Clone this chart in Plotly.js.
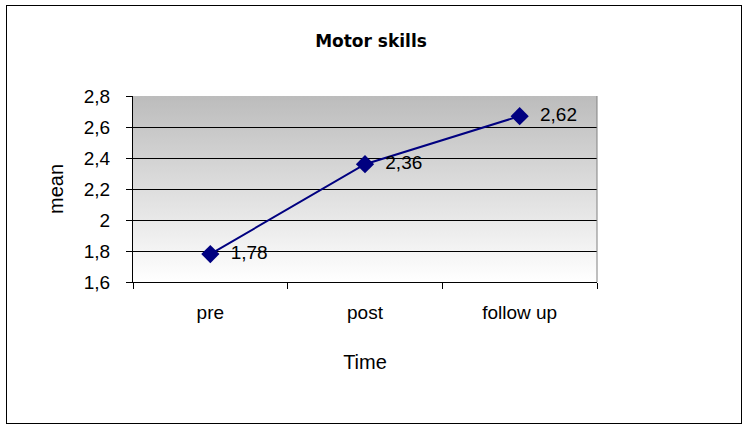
<!DOCTYPE html>
<html>
<head>
<meta charset="utf-8">
<script src="https://cdn.plot.ly/plotly-3.0.1.min.js"></script>
<style>
  html, body { margin: 0; padding: 0; background: #fff; }
  #wrap { position: relative; width: 748px; height: 429px; }
  #chart { width: 748px; height: 429px; }
  #frame { position: absolute; left: 6px; top: 5px; width: 734px; height: 417px;
           border: 1px solid #000; pointer-events: none; }
</style>
</head>
<body>
<div id="wrap"><div id="chart"></div><div id="frame"></div></div>
<script>
// ---- data ----
const categories = ["pre", "post", "follow up"];
const meanValues = [1.78, 2.36, 2.67];
const valueLabels = ["1,78", "2,36", "2,62"];
const yTickVals = [1.6, 1.8, 2.0, 2.2, 2.4, 2.6, 2.8];
const yTickText = ["1,6", "1,8", "2", "2,2", "2,4", "2,6", "2,8"];
const chartTitle = "Motor skills";
const xTitle = "Time";
const yTitle = "mean";

// gradient background for plot area (gray at top to white at bottom)
const gradSvg = '<svg xmlns="http://www.w3.org/2000/svg" width="10" height="100" preserveAspectRatio="none">' +
  '<defs><linearGradient id="g" x1="0" y1="0" x2="0" y2="1">' +
  '<stop offset="0" stop-color="#bcbcbc"/><stop offset="1" stop-color="#ffffff"/>' +
  '</linearGradient></defs><rect width="10" height="100" fill="url(#g)"/></svg>';
const gradUri = 'data:image/svg+xml;base64,' + btoa(gradSvg);

const fontFam = '"Liberation Sans", Arial, sans-serif';

const trace = {
  type: 'scatter',
  mode: 'lines+markers+text',
  x: categories,
  y: meanValues,
  text: valueLabels,
  texttemplate: '  %{text}',
  textposition: 'middle right',
  textfont: { family: fontFam, size: 19, color: '#000' },
  line: { color: '#000080', width: 2 },
  marker: { symbol: 'diamond', size: 14, color: '#000080' },
  cliponaxis: false,
  hoverinfo: 'none'
};

const layout = {
  width: 748, height: 429,
  margin: { l: 133, r: 151, t: 96, b: 147, pad: 0 },
  paper_bgcolor: '#ffffff',
  plot_bgcolor: 'rgba(0,0,0,0)',
  showlegend: false,
  font: { family: fontFam, color: '#000' },
  title: {
    text: '<b>' + chartTitle + '</b>',
    font: { family: '"DejaVu Sans", sans-serif', size: 17, color: '#000' },
    xref: 'container', x: 0.496, xanchor: 'center',
    yref: 'container', y: 0.905, yanchor: 'middle'
  },
  xaxis: {
    type: 'category',
    range: [-0.5, 2.5],
    tickson: 'boundaries',
    ticks: 'outside', ticklen: 6, tickcolor: '#000', tickwidth: 1,
    showline: true, linecolor: '#000', linewidth: 1,
    showgrid: false, zeroline: false,
    tickfont: { family: fontFam, size: 19, color: '#000' },
    ticklabelstandoff: 13,
    title: { text: xTitle, font: { family: fontFam, size: 20, color: '#000' }, standoff: 33 }
  },
  yaxis: {
    range: [1.6, 2.8],
    tickmode: 'array', tickvals: yTickVals, ticktext: yTickText,
    ticks: 'outside', ticklen: 6, tickcolor: '#000', tickwidth: 1,
    showline: true, linecolor: '#000', linewidth: 1,
    showgrid: true, gridcolor: '#000', gridwidth: 1,
    zeroline: false,
    tickfont: { family: fontFam, size: 19, color: '#000' },
    ticklabelstandoff: 12,
    title: { text: yTitle, font: { family: fontFam, size: 20, color: '#000' }, standoff: 14 }
  },
  images: [{
    source: gradUri, xref: 'paper', yref: 'paper',
    x: 0, y: 1, sizex: 1, sizey: 1, xanchor: 'left', yanchor: 'top',
    sizing: 'stretch', layer: 'below'
  }],
  shapes: [{
    type: 'line', xref: 'paper', yref: 'paper',
    x0: 1, x1: 1, y0: 0, y1: 1,
    line: { color: '#808080', width: 1 }, layer: 'above'
  }]
};

Plotly.newPlot('chart', [trace], layout, { staticPlot: true, displayModeBar: false });
</script>
</body>
</html>
